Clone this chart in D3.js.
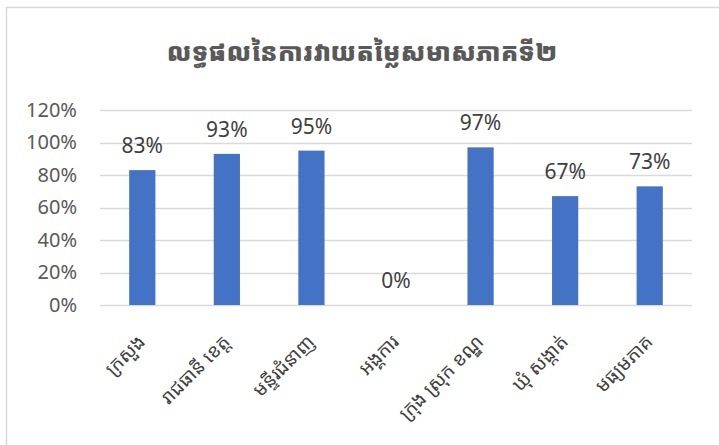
<!DOCTYPE html>
<html>
<head>
<meta charset="utf-8">
<script src="https://cdn.jsdelivr.net/npm/d3@7/dist/d3.min.js"></script>
<style>
  body { margin: 0; background: #fff; }
  text { font-family: "Noto Sans Khmer", "Khmer OS", "Noto Sans", "DejaVu Sans", sans-serif; }
</style>
</head>
<body>
<div id="chart"></div>
<script>
var title = "លទ្ធផលនៃការវាយតម្លៃសមាសភាគទី២";
var categories = ["ក្រសួង", "រាជធានី ខេត្ត", "មន្ទីរជំនាញ", "អង្គការ", "ក្រុង ស្រុក ខណ្ឌ", "ឃុំ សង្កាត់", "មធ្យមភាគ"];
var values = [0.83, 0.93, 0.95, 0, 0.97, 0.67, 0.73];
var yTicks = [0, 0.2, 0.4, 0.6, 0.8, 1.0, 1.2];

var width = 719;
var height = 445;
var margin = {top: 110, right: 27, bottom: 140, left: 100};

var svg = d3.select('#chart').append('svg')
  .attr('width', width)
  .attr('height', height);

// chart border
svg.append('rect')
  .attr('x', 6.5)
  .attr('y', 7.5)
  .attr('width', width)
  .attr('height', height)
  .attr('fill', 'none')
  .attr('stroke', '#d9d9d9')
  .attr('stroke-width', 1.5);

svg.append('text')
  .attr('x', 362)
  .attr('y', 61)
  .attr('text-anchor', 'middle')
  .attr('font-size', 25)
  .attr('font-weight', 900)
  .attr('fill', '#595959')
  .text(title);

var x = d3.scaleBand()
  .domain(categories)
  .range([margin.left, width - margin.right])
  .paddingInner(0.69)
  .paddingOuter(0.345);

var y = d3.scaleLinear()
  .domain([0, 1.2])
  .range([305, 110]);

// gridlines
svg.append('g')
  .selectAll('line')
  .data(yTicks)
  .enter().append('line')
    .attr('x1', margin.left)
    .attr('x2', width - margin.right)
    .attr('y1', function(d){ return Math.round(y(d)) + 0.5; })
    .attr('y2', function(d){ return Math.round(y(d)) + 0.5; })
    .attr('stroke', '#d9d9d9')
    .attr('stroke-width', 1.3);

// y axis labels
var yAxis = d3.axisLeft(y)
  .tickValues(yTicks)
  .tickSize(0)
  .tickPadding(0)
  .tickFormat(d3.format('.0%'));

var gy = svg.append('g')
  .attr('transform', 'translate(77,0)')
  .call(yAxis);
gy.select('.domain').remove();
gy.selectAll('text')
  .attr('font-size', 20)
  .attr('fill', '#595959')
  .style('font-family', '"Noto Sans", sans-serif');

// bars
svg.append('g')
  .selectAll('rect')
  .data(values)
  .enter().append('rect')
    .attr('x', function(d, i){ return x(categories[i]); })
    .attr('y', function(d){ return y(d); })
    .attr('width', x.bandwidth())
    .attr('height', function(d){ return y(0) - y(d); })
    .attr('fill', '#4472c4');

// value labels
svg.append('g')
  .selectAll('text')
  .data(values)
  .enter().append('text')
    .attr('x', function(d, i){ return x(categories[i]) + x.bandwidth() / 2; })
    .attr('y', function(d){ return y(d) - 17; })
    .attr('text-anchor', 'middle')
    .attr('font-size', 21)
    .attr('fill', '#404040')
    .style('font-family', '"Noto Sans", sans-serif')
    .text(function(d){ return d3.format('.0%')(d); });

// x axis category labels
var xAxis = d3.axisBottom(x).tickSize(0).tickPadding(0);
var gx = svg.append('g')
  .attr('transform', 'translate(0,' + y(0) + ')')
  .call(xAxis);
gx.select('.domain').remove();
gx.selectAll('text')
  .attr('font-size', 19)
  .attr('fill', '#404040')
  .attr('text-anchor', 'end')
  .attr('dy', 0)
  .attr('transform', function(d){
    return 'translate(' + (x.bandwidth() / 2 - 9) + ',38) rotate(-45)';
  })
  .attr('y', 0)
  .attr('x', 0);
</script>
</body>
</html>
